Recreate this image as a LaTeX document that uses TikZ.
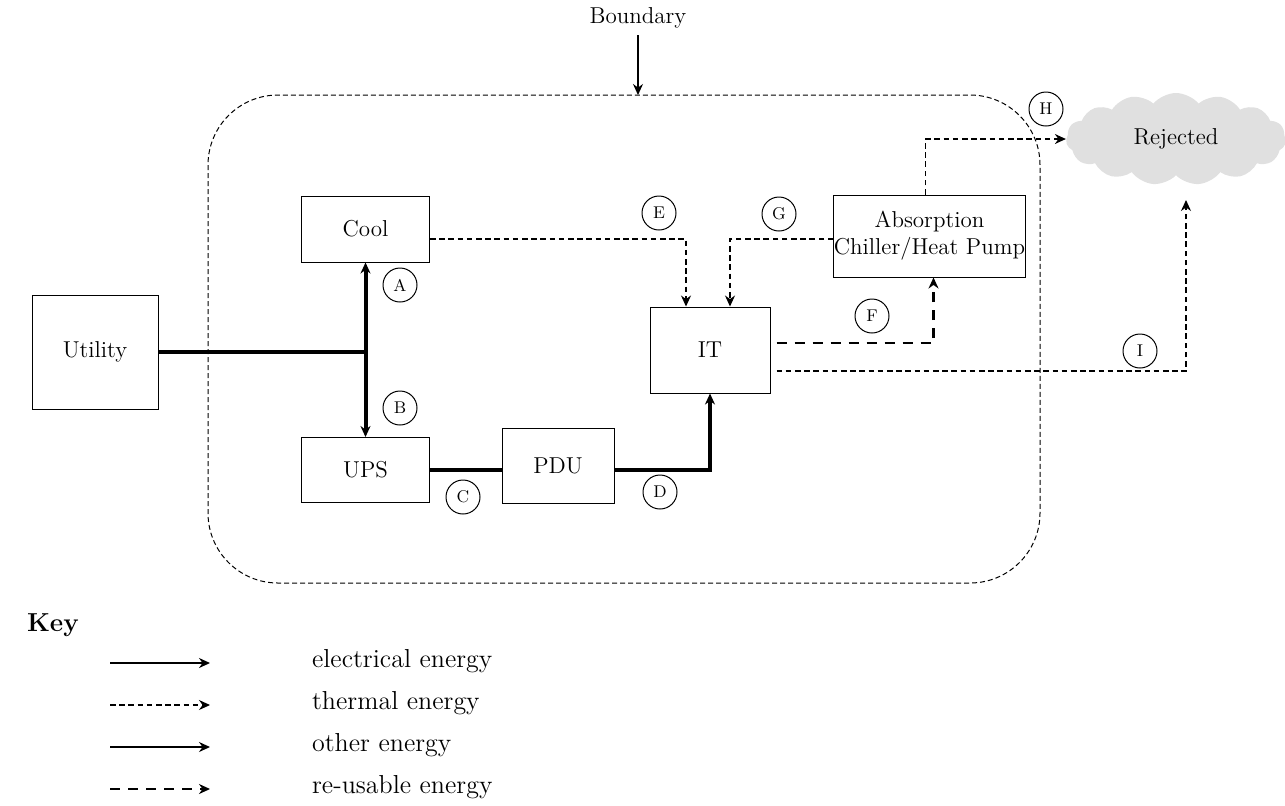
\documentclass[tikz,border=0pt]{standalone}
\usetikzlibrary{arrows.meta, calc, positioning, shapes.symbols}

\begin{document}
\begin{tikzpicture}[>={Stealth[length=5.5pt,width=5pt]}, x=0.5pt, y=-0.5pt,
    box/.style={draw, line width=0.5pt, font=\fontsize{11.5}{13.5}\selectfont, align=center, inner sep=0pt},
    tag/.style={draw, circle, line width=0.5pt, minimum size=17pt, inner sep=0pt, font=\fontsize{8.5}{9}\selectfont},
    elec/.style={->, line width=2pt},
    therm/.style={->, line width=0.6pt, dash pattern=on 2.8pt off 1.8pt},
    reuse/.style={->, line width=1.3pt, dash pattern=on 5pt off 4pt},
    other/.style={->, line width=0.7pt},
    keytext/.style={anchor=west, font=\fontsize{13}{15}\selectfont}]

        \useasboundingbox (0,0) rectangle (1285,805);

        % --- Boundary ---
        \draw[line width=0.5pt, dash pattern=on 2.5pt off 1.5pt, rounded corners=35pt]
            (208,95) rectangle (1040,583);
        \node[font=\fontsize{11.5}{13.5}\selectfont] (bndlabel) at (638,18) {Boundary};
        \coordinate (bndtop) at (638,95);
        \draw[->, line width=0.7pt] (bndlabel.south) -- (bndtop);

        % --- Blocks ---
        \node[box, minimum width=63pt, minimum height=57pt] (util) at (95,352) {Utility};
        \node[box, minimum width=64pt, minimum height=33pt] (cool) at (365.5,229) {Cool};
        \node[box, minimum width=64pt, minimum height=32.5pt] (ups) at (365.5,470) {UPS};
        \node[box, minimum width=56pt, minimum height=37.5pt] (pdu) at (558,465.5) {PDU};
        \node[box, minimum width=60pt, minimum height=43pt] (it) at (710,350) {IT};
        \node[box, minimum width=94.5pt, minimum height=41pt] (abs) at (929.5,236)
            {Absorption\\Chiller/Heat Pump};
        \node[cloud, cloud puffs=15, cloud puff arc=100, aspect=2.6, fill=black!12, inner sep=0pt,
              minimum width=110pt, minimum height=46pt, font=\fontsize{11.5}{13.5}\selectfont]
            (rej) at (1176,139) {Rejected};

        % --- Electrical ---
        \draw[elec] (util.east) -| (cool.south);
        \draw[elec] (util.east -| ups.north) -- (ups.north);
        \draw[line width=2pt] (ups.east) -- (ups.east -| pdu.west);
        \draw[elec] (ups.east -| pdu.east) -| (it.south);

        % --- Thermal ---
        \draw[therm] ($(cool.east)+(0,10)$) -| ($(it.north)+(-24,0)$);
        \draw[therm] ($(abs.west)+(0,3)$) -| ($(it.north)+(20,0)$);
        \draw[therm] ($(abs.north)+(-4,0)$) |- (rej.west);
        \coordinate (iend) at (1186,200);
        \draw[therm] ($(it.east)+(6,21)$) -| (iend);

        % --- Re-usable ---
        \draw[reuse] ($(it.east)+(6,-7)$) -| ($(abs.south)+(4,0)$);

        % --- Tags ---
        \node[tag] (tA) at (400,285) {A};
        \node[tag] (tB) at (400,408) {B};
        \node[tag] (tC) at (463,497) {C};
        \node[tag] (tD) at (660,492) {D};
        \node[tag] (tE) at (659,213) {E};
        \node[tag] (tF) at (872,316) {F};
        \node[tag] (tG) at (779,214) {G};
        \node[tag] (tH) at (1046,109) {H};
        \node[tag] (tI) at (1140,351) {I};

        % --- Key ---
        \node[anchor=west, font=\fontsize{13}{15}\selectfont\bfseries] (key) at (20,625) {Key};
        \foreach \sty/\txt [count=\i] in {elec/electrical energy, therm/thermal energy,
                                          other/other energy, reuse/re-usable energy} {
            \coordinate (ka\i) at (110,621+42*\i);
            \coordinate (kb\i) at (210,621+42*\i);
            \node[keytext] (kt\i) at (305,619+42*\i) {\txt};
        }
        \draw[elec, line width=1.2pt] (ka1) -- (kb1);
        \draw[therm] (ka2) -- (kb2);
        \draw[other] (ka3) -- (kb3);
        \draw[reuse] (ka4) -- (kb4);

\end{tikzpicture}
\end{document}
